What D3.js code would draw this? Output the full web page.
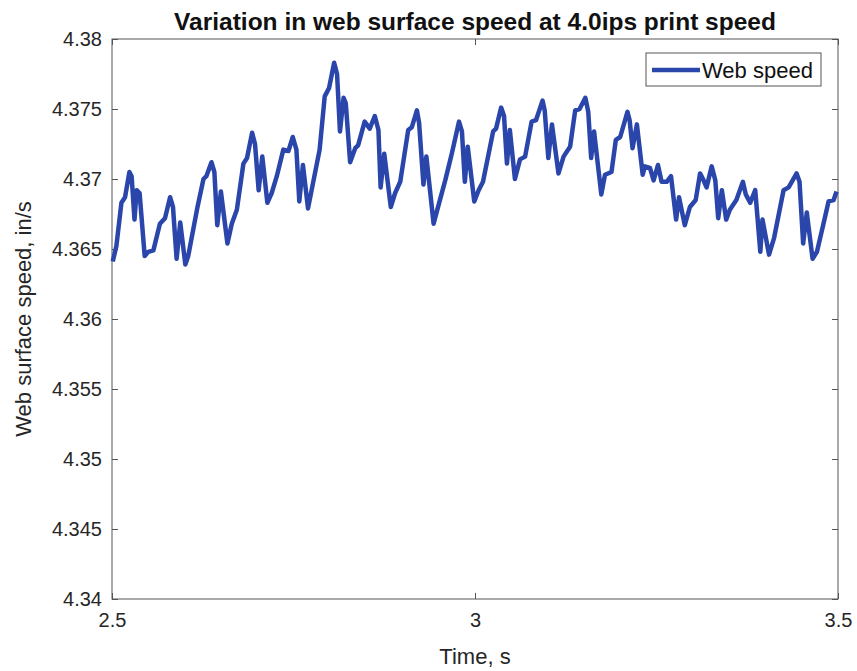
<!DOCTYPE html>
<html>
<head>
<meta charset="utf-8">
<script src="https://cdn.jsdelivr.net/npm/d3@7"></script>
<style>
  body { margin: 0; background: #fff; }
  svg { display: block; font-family: "Liberation Sans", Arial, sans-serif; }
</style>
</head>
<body>
<div id="chart"></div>
<script>
// values
const time = [2.501,2.506,2.513,2.518,2.524,2.527,2.531,2.534,2.538,2.545,2.550,2.557,2.566,2.573,2.580,2.584,2.589,2.594,2.601,2.605,
  2.617,2.626,2.630,2.637,2.641,2.645,2.650,2.659,2.665,2.672,2.681,2.686,2.693,2.697,2.702,2.707,2.714,2.720,2.727,2.736,
  2.743,2.749,2.754,2.758,2.763,2.770,2.786,2.793,2.799,2.806,2.810,2.814,2.819,2.822,2.828,2.835,2.839,2.848,2.855,2.862,
  2.867,2.870,2.875,2.884,2.890,2.897,2.908,2.913,2.920,2.923,2.929,2.933,2.943,2.947,2.959,2.968,2.978,2.982,2.986,2.990,
  2.999,3.005,3.011,3.025,3.029,3.036,3.040,3.044,3.048,3.055,3.062,3.069,3.078,3.084,3.093,3.096,3.101,3.106,3.115,3.122,
  3.127,3.131,3.138,3.144,3.152,3.156,3.160,3.164,3.174,3.179,3.188,3.194,3.200,3.210,3.213,3.217,3.223,3.231,3.234,3.241,
  3.246,3.252,3.257,3.264,3.270,3.277,3.281,3.289,3.296,3.304,3.310,3.314,3.319,3.326,3.331,3.335,3.340,3.346,3.351,3.360,
  3.369,3.373,3.379,3.386,3.393,3.396,3.405,3.412,3.425,3.432,3.443,3.447,3.452,3.457,3.465,3.471,3.480,3.487,3.494,3.498];
const webSpeed = [4.3641,4.3652,4.3683,4.3687,4.3705,4.3702,4.3671,4.3692,4.3690,4.3645,4.3648,4.3649,4.3668,4.3672,4.3687,4.3680,4.3643,4.3669,4.3639,4.3645,
  4.3678,4.3700,4.3702,4.3712,4.3705,4.3667,4.3691,4.3654,4.3668,4.3678,4.3711,4.3715,4.3733,4.3725,4.3692,4.3716,4.3683,4.3690,4.3702,4.3721,
  4.3720,4.3730,4.3721,4.3684,4.3710,4.3679,4.3721,4.3759,4.3765,4.3783,4.3775,4.3734,4.3758,4.3754,4.3712,4.3722,4.3724,4.3741,4.3736,4.3745,
  4.3735,4.3694,4.3718,4.3680,4.3690,4.3698,4.3735,4.3737,4.3749,4.3740,4.3696,4.3716,4.3668,4.3676,4.3699,4.3718,4.3741,4.3734,4.3698,4.3723,
  4.3684,4.3692,4.3698,4.3734,4.3736,4.3751,4.3745,4.3711,4.3735,4.3700,4.3714,4.3716,4.3741,4.3742,4.3756,4.3749,4.3715,4.3739,4.3704,4.3716,
  4.3720,4.3723,4.3749,4.3750,4.3758,4.3748,4.3715,4.3734,4.3689,4.3703,4.3705,4.3728,4.3730,4.3748,4.3742,4.3722,4.3739,4.3703,4.3709,4.3708,
  4.3699,4.3710,4.3698,4.3698,4.3702,4.3671,4.3687,4.3667,4.3680,4.3685,4.3704,4.3700,4.3694,4.3709,4.3699,4.3672,4.3692,4.3671,4.3678,4.3685,
  4.3698,4.3689,4.3683,4.3692,4.3648,4.3671,4.3646,4.3658,4.3692,4.3694,4.3704,4.3698,4.3654,4.3676,4.3643,4.3648,4.3668,4.3684,4.3685,4.3691];
const xTicks = [2.5, 3, 3.5];
const yTicks = [4.34, 4.345, 4.35, 4.355, 4.36, 4.365, 4.37, 4.375, 4.38];

const width = 857, height = 671;
const margin = {top: 39, right: 19, bottom: 72, left: 112};
const w = width - margin.left - margin.right;
const h = height - margin.top - margin.bottom;
const lineColor = "#2a46aa";
const axisColor = "#555";

const svg = d3.select("#chart").append("svg")
    .attr("width", width)
    .attr("height", height);

const g = svg.append("g")
    .attr("transform", "translate(" + margin.left + "," + margin.top + ")");

const x = d3.scaleLinear().domain([2.5, 3.5]).range([0, w]);
const y = d3.scaleLinear().domain([4.34, 4.38]).range([h, 0]);

// box
g.append("rect")
    .attr("width", w).attr("height", h)
    .attr("fill", "none").attr("stroke", axisColor).attr("stroke-width", 1);

// axes, ticks drawn inward like MATLAB
const styleAxis = sel => {
    sel.select(".domain").remove();
    sel.selectAll(".tick line").attr("stroke", axisColor);
    sel.selectAll(".tick text").attr("fill", "#262626").style("font-size", "20px");
};
g.append("g").attr("transform", "translate(0," + h + ")")
    .call(d3.axisBottom(x).tickValues(xTicks).tickFormat(d3.format("")).tickSizeInner(-6).tickPadding(14))
    .call(styleAxis);
g.append("g")
    .call(d3.axisTop(x).tickValues(xTicks).tickFormat("").tickSizeInner(-6))
    .call(styleAxis);
g.append("g")
    .call(d3.axisLeft(y).tickValues(yTicks).tickFormat(d3.format("")).tickSizeInner(-6).tickPadding(10))
    .call(styleAxis);
g.append("g").attr("transform", "translate(" + w + ",0)")
    .call(d3.axisRight(y).tickValues(yTicks).tickFormat("").tickSizeInner(-6))
    .call(styleAxis);

// data line
const pts = time.map((t, i) => [t, webSpeed[i]]);
const line = d3.line().x(d => x(d[0])).y(d => y(d[1]));
g.append("path")
    .datum(pts)
    .attr("fill", "none")
    .attr("stroke", lineColor)
    .attr("stroke-width", 4.5)
    .attr("stroke-linejoin", "round")
    .attr("d", line);

// title and axis labels
svg.append("text")
    .attr("x", margin.left + w / 2).attr("y", 30)
    .attr("text-anchor", "middle")
    .style("font-size", "24.5px").style("font-weight", "bold")
    .attr("fill", "#111")
    .text("Variation in web surface speed at 4.0ips print speed");

svg.append("text")
    .attr("x", margin.left + w / 2).attr("y", 664)
    .attr("text-anchor", "middle")
    .style("font-size", "22px").attr("fill", "#262626")
    .text("Time, s");

svg.append("text")
    .attr("transform", "translate(31," + (margin.top + h / 2) + ") rotate(-90)")
    .attr("text-anchor", "middle")
    .style("font-size", "22px").attr("fill", "#262626")
    .text("Web surface speed, in/s");

// legend
const leg = svg.append("g").attr("transform", "translate(646,53)");
leg.append("rect")
    .attr("width", 175).attr("height", 33)
    .attr("fill", "#fff").attr("stroke", axisColor);
leg.append("line")
    .attr("x1", 6).attr("x2", 54).attr("y1", 17).attr("y2", 17)
    .attr("stroke", lineColor).attr("stroke-width", 4.5);
leg.append("text")
    .attr("x", 56).attr("y", 25)
    .style("font-size", "22px").attr("fill", "#111")
    .text("Web speed");
</script>
</body>
</html>
